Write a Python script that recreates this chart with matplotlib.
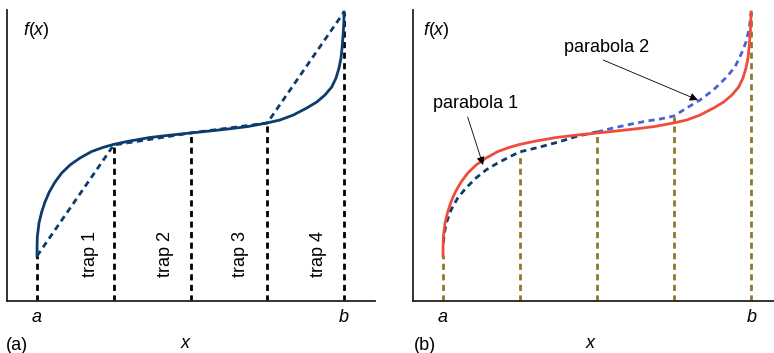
import matplotlib
matplotlib.use("Agg")
import matplotlib.pyplot as plt

plt.rcParams['font.family'] = ['Liberation Sans', 'DejaVu Sans']
plt.rcParams['mathtext.fontset'] = 'custom'
plt.rcParams['mathtext.rm'] = 'Liberation Sans'
plt.rcParams['mathtext.it'] = 'Liberation Sans:italic'

# f(x) sampled along the curve, a = 0, b = 4
curve_x = [0.0, 0.001, 0.004, 0.026, 0.061, 0.104, 0.160, 0.235, 0.322, 0.430,
           0.560, 0.713, 0.864, 0.994, 1.125, 1.21, 1.47, 1.75, 2.0, 2.25, 2.51,
           2.75, 2.993, 3.166, 3.340, 3.515, 3.645, 3.752, 3.840, 3.896, 3.935,
           3.961, 3.978, 3.991, 3.998, 4.0]
curve_y = [0.45, 0.54, 0.64, 0.78, 0.89, 0.99, 1.09, 1.19, 1.28, 1.36,
           1.43, 1.495, 1.537, 1.565, 1.587, 1.60, 1.635, 1.66, 1.68, 1.70, 1.722,
           1.745, 1.78, 1.81, 1.86, 1.93, 1.99, 2.06, 2.14, 2.23, 2.33,
           2.43, 2.56, 2.69, 2.79, 2.89]

# trapezoid nodes
trap_x = [0, 1, 2, 3, 4]
trap_y = [0.45, 1.56, 1.68, 1.78, 2.89]
trap_labels = ["trap 1", "trap 2", "trap 3", "trap 4"]
trap_label_x = [0.70, 1.68, 2.65, 3.67]

# Simpson parabolas over [a, mid] and [mid, b]
par1_x = [0.005, 0.017, 0.048, 0.104, 0.191, 0.299, 0.429, 0.558, 0.710, 0.861,
          0.991, 1.208, 1.5, 1.75, 2.0]
par1_y = [0.58, 0.68, 0.79, 0.91, 1.03, 1.13, 1.23, 1.31, 1.38, 1.44,
          1.49, 1.53, 1.59, 1.65, 1.69]
par2_x = [2.0, 2.21, 2.45, 2.65, 2.818, 3.0, 3.165, 3.338, 3.511, 3.684, 3.792,
          3.879, 3.935, 3.978, 4.0]
par2_y = [1.69, 1.73, 1.77, 1.80, 1.82, 1.85, 1.93, 2.01, 2.11, 2.24, 2.34,
          2.48, 2.59, 2.73, 2.88]
simp_x = [0, 1, 2, 3, 4]
simp_y = [0.46, 1.48, 1.69, 1.84, 2.90]

navy = "#0b3c6c"
red = "#f04c3c"
olive = "#8b7a2b"
blue2 = "#4a62d4"
fs = 13

fig = plt.figure(figsize=(7.74, 3.53), dpi=100)
W, H = 774, 353

def make_axes(x0, x1, y0, y1):
    ax = fig.add_axes([x0 / W, (H - y1) / H, (x1 - x0) / W, (y1 - y0) / H])
    for s in ['top', 'right']:
        ax.spines[s].set_visible(False)
    for s in ['left', 'bottom']:
        ax.spines[s].set_linewidth(1.3)
        ax.spines[s].set_color("#222222")
    ax.set_xticks([])
    ax.set_yticks([])
    return ax

# (a) trapezoid rule
ax1 = make_axes(7, 375, 10, 301)
ax1.set_xlim((7 - 37) / 76.75, (375 - 37) / 76.75)
ax1.set_ylim(0, 2.91)
for xv, yv in zip(trap_x, trap_y):
    ax1.plot([xv, xv], [0, yv], color="black", lw=2, dashes=(2.2, 1.6), zorder=2)
ax1.plot(trap_x, trap_y, color=navy, lw=2, dashes=(2.2, 1.6), zorder=3)
ax1.plot(curve_x, curve_y, color=navy, lw=2, zorder=4)
for lx, lab in zip(trap_label_x, trap_labels):
    ax1.text(lx, 0.47, lab, rotation=90, ha='center', va='center', fontsize=fs)
ax1.text(0.043, 0.93, r'$f(x)$', transform=ax1.transAxes, fontsize=fs, va='center')

# (b) Simpson's rule
ax2 = make_axes(413, 774, 10, 301)
ax2.set_xlim((413 - 443) / 77, (774 - 443) / 77)
ax2.set_ylim(0, 2.91)
for xv, yv in zip(simp_x, simp_y):
    ax2.plot([xv, xv], [0, yv], color=olive, lw=2, dashes=(2.2, 1.6), zorder=2)
ax2.plot(par1_x, par1_y, color=navy, lw=2, dashes=(2.2, 1.6), zorder=3)
ax2.plot(par2_x, par2_y, color=blue2, lw=2, dashes=(2.2, 1.6), zorder=3)
ax2.plot(curve_x, curve_y, color=red, lw=2, zorder=4)
ax2.text(0.028, 0.93, r'$f(x)$', transform=ax2.transAxes, fontsize=fs, va='center')
arrow = dict(arrowstyle='-|>', color='black', lw=0.6, mutation_scale=12, shrinkA=0, shrinkB=0)
ax2.annotate("", xy=(0.52, 1.36), xytext=(0.32, 1.84), arrowprops=arrow, zorder=5)
ax2.text(0.42, 1.97, "parabola 1", ha='center', va='center', fontsize=fs)
ax2.annotate("", xy=(3.31, 2.01), xytext=(2.08, 2.41), arrowprops=arrow, zorder=5)
ax2.text(2.12, 2.54, "parabola 2", ha='center', va='center', fontsize=fs)

# axis annotations below the plots
def ftext(px, py, s, **kw):
    fig.text(px / W, 1 - py / H, s, ha='center', va='center', fontsize=fs, **kw)

ftext(37, 317, "a", style='italic')
ftext(344, 318, "b", style='italic')
ftext(185, 344, "x", style='italic')
ftext(17, 345, "(a)")
ftext(443, 317, "a", style='italic')
ftext(752, 318, "b", style='italic')
ftext(590, 344, "x", style='italic')
ftext(425, 345, "(b)")

fig.savefig("out.png", dpi=100)
